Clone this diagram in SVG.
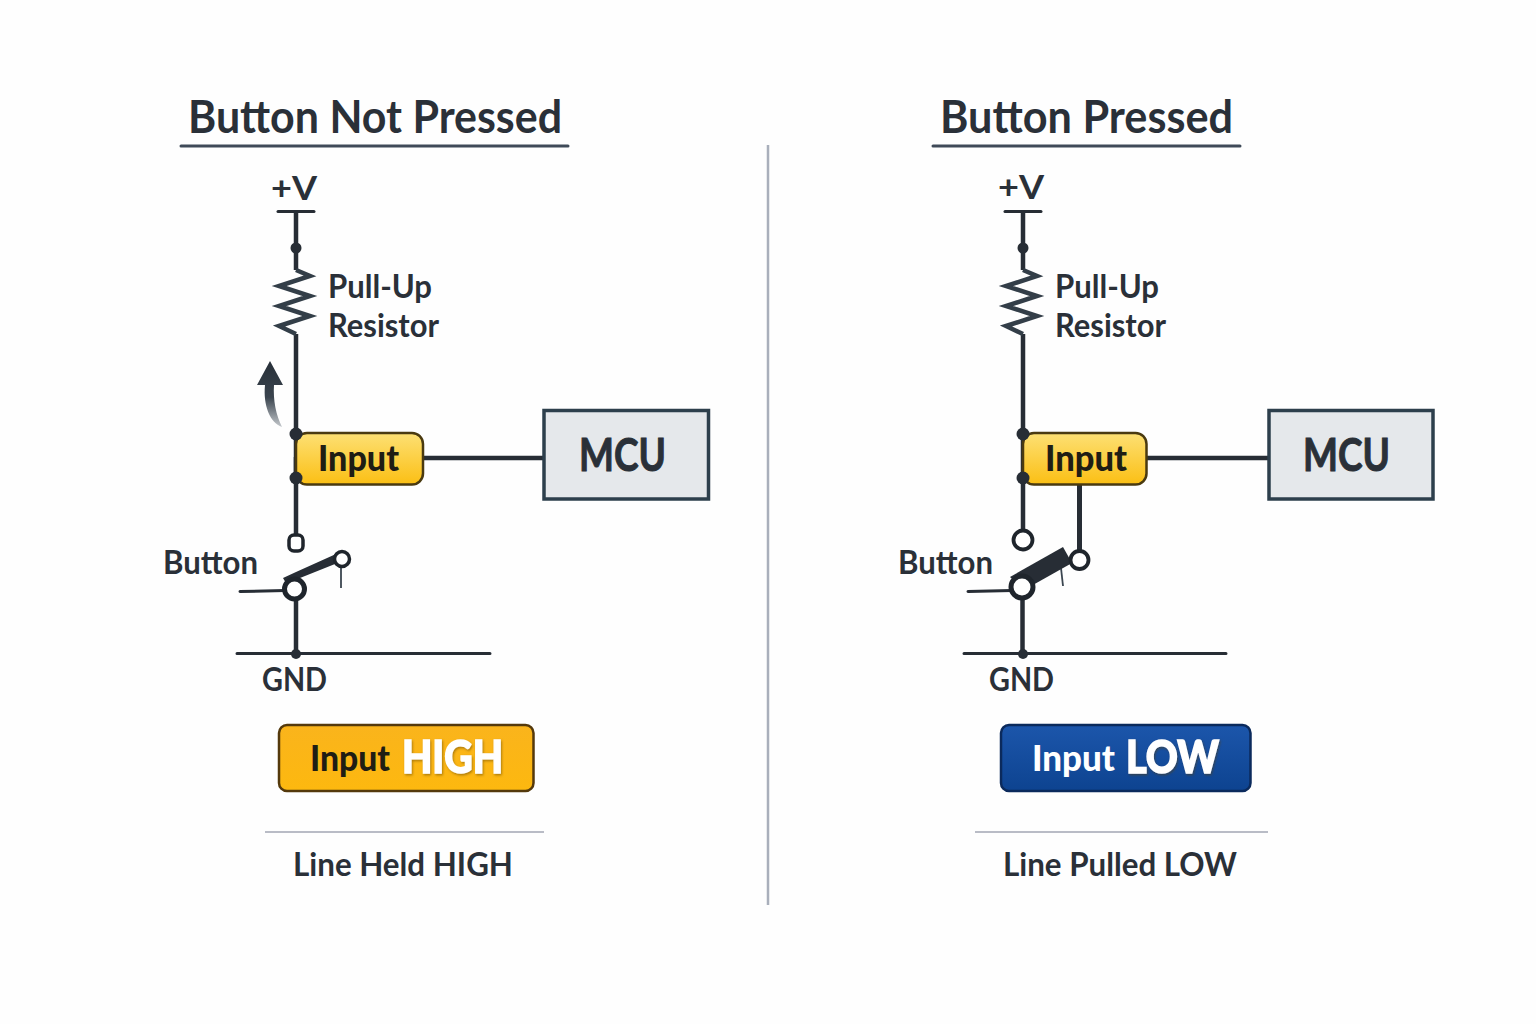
<svg xmlns="http://www.w3.org/2000/svg" width="1536" height="1024" viewBox="0 0 1536 1024">
<style>
text{font-family:"Lato","Noto Sans","Liberation Sans",sans-serif;fill:#2a3038;font-weight:700}
.title{font-size:46px}
.lbl{font-size:32px}
.sw{font-size:33px}
.tag{font-size:36px;font-weight:900;fill:#1f1d14}
.mcu{font-size:46px;stroke:#2a3038;stroke-width:1}
.big{font-size:45px;font-weight:900;fill:#fff;stroke:#fff;stroke-width:1.500;filter:url(#s)}
.w{fill:none;stroke:#272d35;stroke-width:4.500}
.t{fill:none;stroke:#272d35;stroke-width:3;stroke-linecap:round}
.r{fill:none;stroke:#333e48;stroke-width:4.500;stroke-linejoin:miter}
.d{fill:#272d35}
.o{fill:#fff;stroke:#1f252c}
.u{stroke:#3f4a58;stroke-width:3;stroke-linecap:round;fill:none}
.h{stroke:#b9bcc6;stroke-width:2;fill:none}
.in{fill:url(#y);stroke:#4a3a10;stroke-width:2.500}
.box{fill:#e5e8eb;stroke:#2d3f4c;stroke-width:3.500}
</style>
<defs>
<linearGradient id="y" x1="0" y1="0" x2="0" y2="1"><stop offset="0" stop-color="#fde074"/><stop offset="1" stop-color="#fbbf14"/></linearGradient>
<linearGradient id="o" x1="0" y1="0" x2="0" y2="1"><stop offset="0" stop-color="#fab41c"/><stop offset="1" stop-color="#fdb80f"/></linearGradient>
<linearGradient id="b" x1="0" y1="0" x2="0" y2="1"><stop offset="0" stop-color="#1c56ab"/><stop offset="1" stop-color="#0d4390"/></linearGradient>
<linearGradient id="a" x1="0" y1="0" x2="0" y2="1"><stop offset="0" stop-color="#272f38"/><stop offset="0.55" stop-color="#3a444e"/><stop offset="1" stop-color="#c4c8cc"/></linearGradient>
<filter id="s" x="-10%" y="-10%" width="120%" height="130%"><feDropShadow dx="1" dy="1.500" stdDeviation="0.800" flood-color="#5a3c00" flood-opacity="0.500"/></filter>
</defs>
<rect width="1536" height="1024" fill="#fefefe"/>
<g id="divider"><line x1="768" y1="145" x2="768" y2="905" stroke="#a9afbb" stroke-width="2.500"/></g>

<g id="connectors-left">
<line class="u" x1="181" y1="146" x2="568" y2="146"/>
<line class="t" x1="278" y1="211.500" x2="314" y2="211.500"/>
<path class="w" d="M296 212V270M296 334V535"/>
<path class="r" d="M296 270L310 276L279 286L310 296L279 306L310 316L279 326L296 334"/>
<line class="w" x1="296" y1="457" x2="296" y2="480"/>
<line class="w" x1="423" y1="458" x2="544" y2="458"/>
<path class="w" d="M296 600V654"/>
<path class="t" d="M240 591.500L285 590.500M237 653.500H490"/>
<line x1="341" y1="567" x2="341" y2="588" stroke="#3b4650" stroke-width="1.800"/>
</g>
<g id="title-left"><text class="title" x="188" y="133" textLength="374" lengthAdjust="spacingAndGlyphs">Button Not Pressed</text></g>
<g id="vplus-left"><text class="lbl" x="271" y="200" textLength="46" lengthAdjust="spacingAndGlyphs">+V</text></g>
<g id="resistor-left"><text class="lbl" x="328" y="298" textLength="104" lengthAdjust="spacingAndGlyphs">Pull-Up</text><text class="lbl" x="328" y="337" textLength="111" lengthAdjust="spacingAndGlyphs">Resistor</text></g>
<g id="arrow-left"><path d="M270 361L283 385H274C273 400 276 415 282 427C270 423 263 405 265 385H257Z" fill="url(#a)"/></g>
<g id="input-left"><rect class="in" x="296" y="433" width="127" height="51.500" rx="11"/><text class="tag" x="318" y="471" textLength="81" lengthAdjust="spacingAndGlyphs">Input</text></g>
<circle class="d" cx="296" cy="434" r="6.500"/><circle class="d" cx="296" cy="478" r="6.500"/><circle class="d" cx="296" cy="248" r="5.500"/><circle class="d" cx="296" cy="654" r="5"/>
<g id="mcu-left"><rect class="box" x="544" y="410.500" width="164.500" height="88.500"/><text class="mcu" x="579" y="471" textLength="87" lengthAdjust="spacingAndGlyphs">MCU</text></g>
<g id="switch-left">
<text class="sw" x="163" y="574" textLength="95" lengthAdjust="spacingAndGlyphs">Button</text>
<rect class="o" x="289" y="535" width="14" height="16" rx="5" stroke-width="3.500"/>
<path d="M283 578L296 572L336 554L340 562L300 578L290 590Z" fill="#272d35"/>
<circle class="o" cx="294.500" cy="589" r="10" stroke-width="5"/>
<circle class="o" cx="342" cy="559" r="7.500" stroke-width="3.500"/>
</g>
<g id="gnd-left"><text class="sw" x="262" y="691" textLength="65" lengthAdjust="spacingAndGlyphs">GND</text></g>
<g id="status-left"><rect x="279" y="725" width="254.500" height="66" rx="8" fill="url(#o)" stroke="#54390c" stroke-width="2.500"/><text class="tag" x="310" y="771" textLength="80" lengthAdjust="spacingAndGlyphs">Input</text><text class="big" x="402" y="773" textLength="101" lengthAdjust="spacingAndGlyphs">HIGH</text></g>
<g id="note-left"><line class="h" x1="265" y1="832" x2="544" y2="832"/><text class="lbl" x="293" y="876" textLength="220" lengthAdjust="spacingAndGlyphs">Line Held HIGH</text></g>

<g id="connectors-right">
<line class="u" x1="933" y1="146" x2="1240" y2="146"/>
<line class="t" x1="1005" y1="211.500" x2="1041" y2="211.500"/>
<path class="w" d="M1023 212V270M1023 334V532"/>
<path class="r" d="M1023 270L1037 276L1006 286L1037 296L1006 306L1037 316L1006 326L1023 334"/>
<line class="w" x1="1147" y1="458" x2="1269" y2="458"/>
<path class="w" d="M1022.500 600V654"/>
<path class="t" d="M968 591.500L1012 590.500M964 653.500H1226"/>
<line x1="1079.500" y1="484" x2="1079.500" y2="550" stroke="#272d35" stroke-width="5"/>
<line x1="1061" y1="568" x2="1063" y2="586" stroke="#3b4650" stroke-width="1.800"/>
</g>
<g id="title-right"><text class="title" x="940" y="133" textLength="293" lengthAdjust="spacingAndGlyphs">Button Pressed</text></g>
<g id="vplus-right"><text class="lbl" x="998" y="199" textLength="46" lengthAdjust="spacingAndGlyphs">+V</text></g>
<g id="resistor-right"><text class="lbl" x="1055" y="298" textLength="104" lengthAdjust="spacingAndGlyphs">Pull-Up</text><text class="lbl" x="1055" y="337" textLength="111" lengthAdjust="spacingAndGlyphs">Resistor</text></g>
<g id="input-right"><rect class="in" x="1023" y="433" width="123.500" height="51.500" rx="11"/><text class="tag" x="1045" y="471" textLength="82" lengthAdjust="spacingAndGlyphs">Input</text></g>
<circle class="d" cx="1023" cy="434" r="6.500"/><circle class="d" cx="1023" cy="478" r="6.500"/><circle class="d" cx="1023" cy="248" r="5.500"/><circle class="d" cx="1023" cy="654" r="5"/>
<g id="mcu-right"><rect class="box" x="1269" y="410.500" width="164" height="88.500"/><text class="mcu" x="1303" y="471" textLength="87" lengthAdjust="spacingAndGlyphs">MCU</text></g>
<g id="switch-right">
<text class="sw" x="898" y="574" textLength="95" lengthAdjust="spacingAndGlyphs">Button</text>
<circle class="o" cx="1023" cy="540" r="9.500" stroke-width="3.800"/>
<path d="M1010 577L1063 547L1072 563L1024 590Z" fill="#272d35"/>
<circle class="o" cx="1022" cy="587" r="11" stroke-width="5"/>
<circle class="o" cx="1079.500" cy="560" r="9" stroke-width="3.800"/>
</g>
<g id="gnd-right"><text class="sw" x="989" y="691" textLength="65" lengthAdjust="spacingAndGlyphs">GND</text></g>
<g id="status-right"><rect x="1001" y="725" width="249.500" height="66" rx="8" fill="url(#b)" stroke="#0b2a5c" stroke-width="2.500"/><text class="tag" x="1032" y="771" textLength="83" lengthAdjust="spacingAndGlyphs" style="fill:#fff">Input</text><text class="big" x="1126" y="773" textLength="93" lengthAdjust="spacingAndGlyphs">LOW</text></g>
<g id="note-right"><line class="h" x1="975" y1="832" x2="1268" y2="832"/><text class="lbl" x="1003" y="876" textLength="234" lengthAdjust="spacingAndGlyphs">Line Pulled LOW</text></g>
</svg>
